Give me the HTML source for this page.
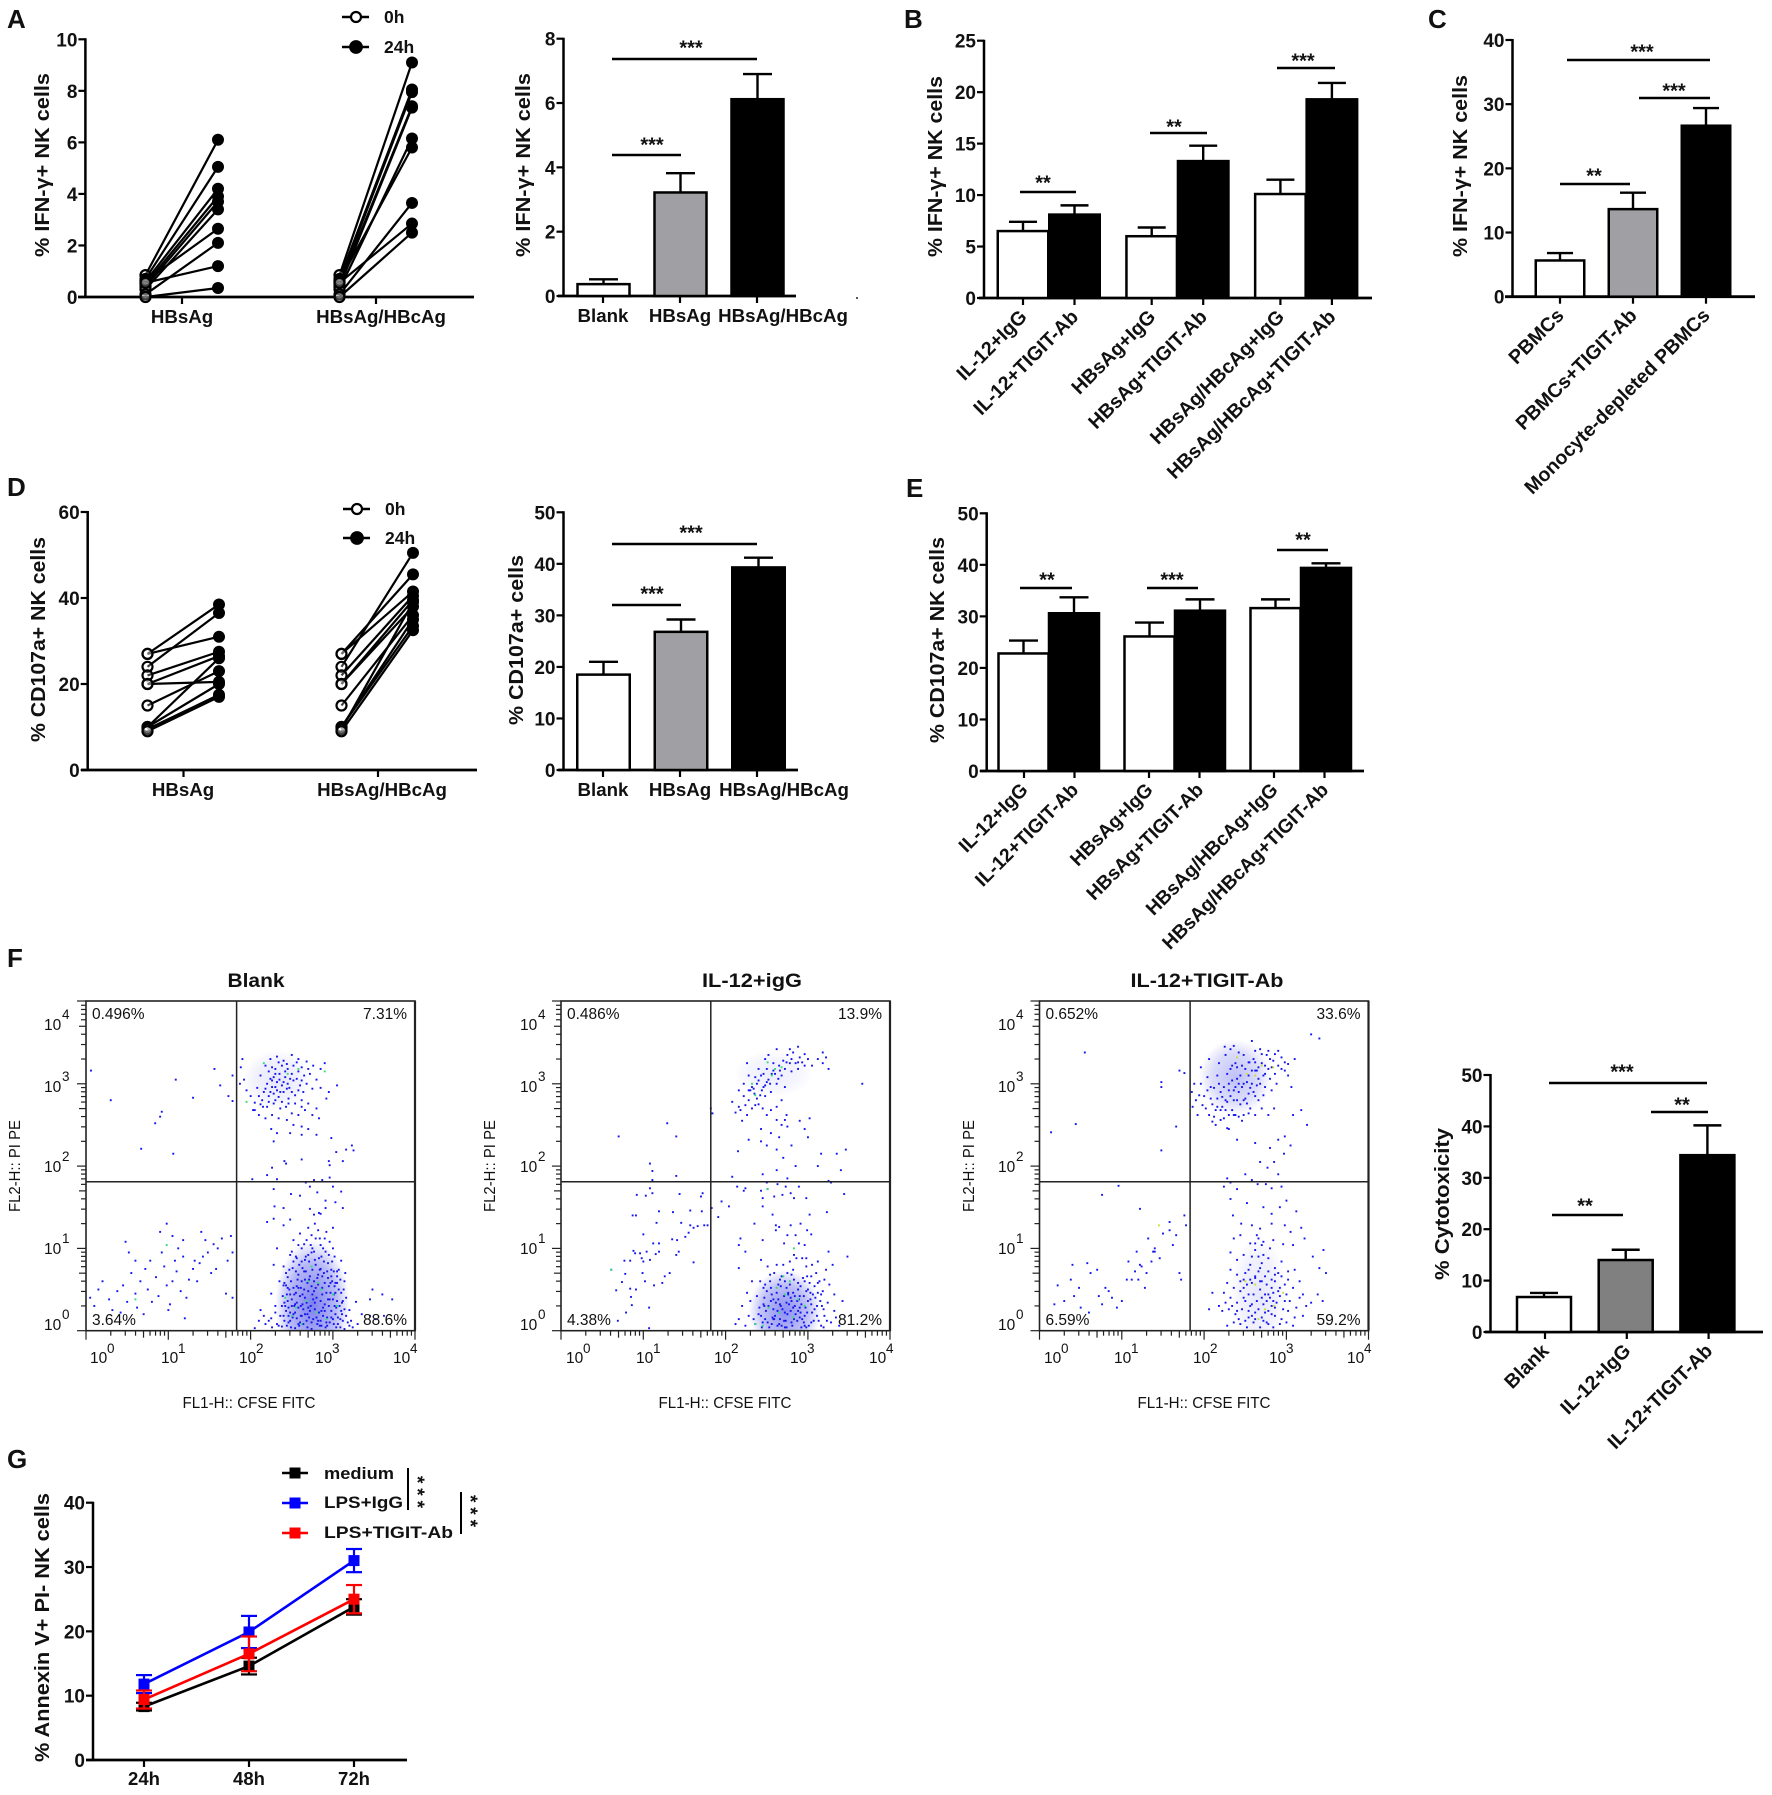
<!DOCTYPE html>
<html lang="en">
<head>
<meta charset="utf-8">
<title>NK cell function figure panels A-G</title>
<style>
html,body{margin:0;padding:0;background:#fff;}
svg{display:block;}
text{font-family:"Liberation Sans",Arial,sans-serif;fill:#111;}
</style>
</head>
<body>
<svg id="figure" xmlns="http://www.w3.org/2000/svg" width="1772" height="1795" viewBox="0 0 1772 1795">
  <defs>
    <radialGradient id="hazeGrad">
      <stop offset="0" stop-color="#0a10e0" stop-opacity="0.62"/>
      <stop offset="0.65" stop-color="#0a10e0" stop-opacity="0.34"/>
      <stop offset="1" stop-color="#0a10e0" stop-opacity="0"/>
    </radialGradient>
  </defs>
</svg>
<script>
/* ---------- Panel A data ---------- */
const aPairGroups=['HBsAg','HBsAg/HBcAg'];
const aPairTicks=[0,2,4,6,8,10];
const aPair0h=[0.85,0.7,0.6,0.5,0.4,0.3,0.62,0.1,0.55,0.0];
const aPair24hG1=[6.1,5.05,4.2,3.9,3.7,3.4,2.65,2.1,1.2,0.35];
const aPair24hG2=[9.1,8.05,7.95,7.4,7.35,6.15,5.8,3.65,2.85,2.5];
const aBarCats=['Blank','HBsAg','HBsAg/HBcAg'];
const aBarVals=[0.4,3.25,6.15];
const aBarErrs=[0.12,0.57,0.75];
const aBarTicks=[0,2,4,6,8];
/* ---------- Panel B data ---------- */
const bCats=['IL-12+IgG','IL-12+TIGIT-Ab','HBsAg+IgG','HBsAg+TIGIT-Ab','HBsAg/HBcAg+IgG','HBsAg/HBcAg+TIGIT-Ab'];
const bVals=[6.6,8.2,6.1,13.4,10.2,19.4];
const bErrs=[0.8,0.8,0.75,1.4,1.3,1.5];
const bTicks=[0,5,10,15,20,25];
/* ---------- Panel C data ---------- */
const cCats=['PBMCs','PBMCs+TIGIT-Ab','Monocyte-depleted PBMCs'];
const cVals=[5.8,13.8,26.8];
const cErrs=[1.0,2.4,2.6];
const cTicks=[0,10,20,30,40];
/* ---------- Panel D data ---------- */
const dPairGroups=['HBsAg','HBsAg/HBcAg'];
const dPairTicks=[0,20,40,60];
const dPair0h=[27,24,27,22,20,20,15,10,10,9.5,9];
const dPair24hG1=[38.5,36.5,31,27.5,26.5,20.5,23,26,20,17.5,17];
const dPair24hG2=[45.5,50.5,41.5,40.5,39.5,38,36,35,33.5,39,32.5];
const dBarCats=['Blank','HBsAg','HBsAg/HBcAg'];
const dBarVals=[18.7,27,39.5];
const dBarErrs=[2.3,2.2,1.7];
const dBarTicks=[0,10,20,30,40,50];
/* ---------- Panel E data ---------- */
const eCats=['IL-12+IgG','IL-12+TIGIT-Ab','HBsAg+IgG','HBsAg+TIGIT-Ab','HBsAg/HBcAg+IgG','HBsAg/HBcAg+TIGIT-Ab'];
const eVals=[23,30.8,26.3,31.3,31.8,39.6];
const eErrs=[2.3,2.9,2.5,2.0,1.5,0.7];
const eTicks=[0,10,20,30,40,50];
/* ---------- Panel F cytotoxicity data ---------- */
const fCats=['Blank','IL-12+IgG','IL-12+TIGIT-Ab'];
const fVals=[7,14.2,34.6];
const fErrs=[0.6,1.8,5.6];
const fTicks=[0,10,20,30,40,50];
/* ---------- Panel G data ---------- */
const gCats=['24h','48h','72h'];
const gTicks=[0,10,20,30,40];
const gMedium=[8.3,14.6,23.8];
const gMediumErr=[0.6,1.3,1.2];
const gIgG=[11.8,19.9,31];
const gIgGErr=[1.4,2.5,1.8];
const gTigit=[9.4,16.5,25];
const gTigitErr=[1.4,2.7,2.2];
/* ---------- Flow cytometry events: flat x,y pairs in log10 x 100 units ---------- */
const blankEvents=[6,316,30,280,109,305,130,283,156,318,163,298,178,310,173,285,178,279,92,266,90,260,84,252,67,221,106,215,
190,330,188,320,192,305,187,300,195,292,200,285,205,277,203,268,210,262,215,272,208,295,212,310,218,322,224,330,232,333,240,328,250,335,258,330,268,327,276,322,285,318,290,325,222,315,230,318,238,322,245,318,252,322,228,308,235,312,242,308,250,312,258,315,265,310,272,312,280,305,220,300,226,296,232,302,238,298,245,300,252,304,260,298,268,300,275,294,285,295,295,290,305,298,210,285,216,290,222,285,228,288,234,284,240,290,246,282,254,286,262,280,270,276,280,270,292,282,205,268,212,275,220,272,228,276,236,270,243,272,250,264,258,262,266,268,275,262,283,258,218,258,226,262,234,258,244,256,252,250,262,248,270,245,280,238,225,245,232,240,248,240,262,238,235,305,247,295,224,306,232,292,242,315,
226,320,234,326,244,324,256,326,262,320,270,318,226,304,230,312,240,302,248,306,256,306,262,304,218,294,224,290,230,296,236,290,244,294,250,290,258,292,264,290,214,280,222,278,230,280,238,278,246,276,254,276,262,272,
228,230,298,234,323,225,316,220,304,217,325,219,241,206,243,203,262,208,295,206,296,201,312,206,226,198,220,189,232,184,202,184,296,186,287,183,277,183,
5,40,10,30,15,50,20,60,28,38,32,25,38,48,42,22,45,55,50,35,55,70,60,45,62,28,66,60,70,20,72,75,75,50,78,85,80,35,85,65,88,42,92,95,95,78,98,55,100,25,102,32,105,60,108,85,110,72,112,100,115,48,118,90,120,15,122,40,125,62,130,75,135,60,138,82,142,90,148,95,152,70,158,75,160,100,165,112,172,85,176,115,178,95,132,85,145,110,140,120,170,45,178,40,155,105,90,120,98,130,105,115,118,110,60,85,52,95,48,108,
267,180,272,175,300,175,310,169,228,172,249,166,260,164,281,168,291,158,303,156,229,151,240,149,291,149,277,141,283,143,228,136,220,132,312,149,
205,3,212,25,218,8,225,45,230,30,235,60,225,15,228,80,232,100,240,78,243,55,248,92,252,110,256,88,260,118,265,105,270,125,274,95,278,130,284,112,288,100,292,120,296,108,300,125,302,90,305,72,310,85,314,60,316,40,320,25,322,12,328,35,335,20,345,38,348,50,352,14,362,18,360,44,372,38,345,18,330,8,240,128,248,135,272,148,285,142,
238,5,240,18,242,30,244,44,246,10,248,22,250,38,252,52,254,3,256,15,258,28,260,42,262,60,264,8,266,20,268,34,270,48,272,66,274,2,276,14,278,26,280,40,282,56,284,74,286,6,288,18,290,32,292,46,294,64,296,10,298,24,300,38,302,54,304,4,306,16,308,30,310,46,312,12,314,26,241,12,243,24,245,36,247,50,249,4,251,16,253,30,255,46,257,62,259,6,261,18,263,32,265,50,267,72,269,4,271,16,273,30,275,44,277,60,279,80,281,8,283,22,285,36,287,52,289,70,291,4,293,16,295,30,297,46,299,60,301,8,303,20,305,36,307,50,309,4,311,20,244,6,248,12,252,20,256,34,260,10,264,26,268,12,272,24,276,38,280,16,284,6,288,28,292,10,296,38,300,14,304,28,258,52,266,62,274,54,282,68,290,58,298,74,262,84,270,92,278,86,286,90,294,82,275,100,285,75,255,72,245,65,305,66,262,100,268,110,300,100,240,55,238,30,312,36,316,18,320,6,234,6,236,18,
232,8,230,22,226,4,222,12,216,18,210,12,314,2,318,10,324,4,
239,42,241,58,243,70,246,28,249,60,251,76,254,32,256,54,259,80,261,30,263,44,265,72,267,90,269,58,271,84,273,104,275,74,277,96,279,112,281,64,283,88,285,104,287,66,289,84,291,96,293,72,295,92,297,58,299,84,301,72,303,46,305,58,307,74,309,62,311,34,313,50,315,70,
246,18,250,30,254,22,258,8,262,18,266,40,270,28,274,10,278,34,282,12,286,24,290,24,294,38,298,16,302,30,306,8,310,24,247,74,255,90,263,76,271,62,279,52,287,44,295,54,303,58,241,34,245,52,253,44,261,52,269,20,277,48,285,12,293,6,301,44,309,14,
250,96,258,104,266,86,274,116,282,122,290,112,298,66,258,68,252,84,248,44];
const blankGreen=[216,325,245,312,258,318,290,315,195,278,60,38,98,104,242,40,250,18,262,8,270,60,280,22,286,50,292,14,300,44,305,30,274,78,282,58,268,36,255,28];
const blankCores=[[275,32,45,78,0.85],[232,305,42,36,0.16]];
const il12Events=[70,236,129,252,140,236,108,203,111,194,111,183,140,188,182,270,184,264,
208,278,212,265,216,272,220,255,222,285,226,262,228,280,232,270,230,292,235,288,238,300,240,275,243,310,246,296,248,285,250,318,252,305,255,290,258,325,260,312,262,300,265,322,268,310,270,328,272,318,275,335,278,325,280,315,282,338,285,325,288,318,290,332,293,326,296,336,300,330,305,322,312,330,318,325,322,332,325,318,245,270,250,262,255,268,262,272,268,280,274,262,240,318,236,308,228,310,222,300,226,325,216,292,318,338,288,345,278,342,262,342,252,335,248,330,366,300,232,296,238,282,244,292,250,302,256,312,264,306,272,296,224,274,218,268,
234,294,240,304,246,312,254,300,258,316,266,316,274,326,280,330,288,326,296,322,242,286,248,298,236,274,228,292,
243,245,250,225,243,230,255,240,262,220,268,250,272,256,262,256,280,225,270,210,262,195,275,185,245,190,250,180,243,170,285,200,290,255,296,245,300,235,302,258,312,200,316,215,325,182,328,180,346,220,335,215,340,195,275,248,265,235,228,232,208,187,215,218,
61,74,78,69,74,59,67,49,84,51,91,50,85,41,86,31,79,22,69,12,107,3,107,28,113,55,102,60,99,70,123,58,126,66,132,70,77,85,84,85,88,97,90,94,96,94,100,84,98,88,104,96,108,86,112,106,115,93,119,106,119,96,135,111,141,110,143,96,140,92,161,83,151,114,155,119,157,128,161,125,166,127,174,128,178,128,146,131,116,131,119,145,136,144,157,146,171,145,183,149,87,140,91,140,92,165,103,164,108,173,111,167,144,166,170,163,172,167,100,117,
214,175,224,173,222,170,251,172,263,178,273,175,289,175,245,161,259,163,269,165,279,167,283,161,298,161,344,166,245,151,323,144,302,141,195,157,204,151,191,138,257,141,235,130,261,128,265,126,279,128,291,130,261,122,299,122,304,117,218,112,216,104,245,110,224,96,275,116,285,116,271,106,289,106,296,104,216,76,325,96,348,90,
236,8,240,20,244,4,248,14,252,30,256,8,260,18,264,38,268,6,272,22,276,44,280,10,284,30,288,50,292,4,296,18,300,36,304,10,308,26,312,46,316,6,320,18,324,34,328,10,332,24,238,42,242,60,246,32,250,48,254,68,258,26,262,46,266,62,270,80,274,34,278,56,282,74,286,88,290,42,294,64,298,78,302,58,306,44,310,70,314,60,318,48,322,74,326,56,330,80,
245,10,249,24,253,4,257,16,261,34,265,8,269,26,273,12,277,32,281,6,285,20,289,38,293,14,297,28,301,6,305,22,309,40,313,12,317,30,241,28,247,40,255,52,263,24,271,42,279,24,287,12,295,42,303,46,311,30,319,4,267,54,275,70,283,62,291,54,299,66,259,70,251,78,243,86,283,92,293,88,305,80,272,4,280,36,288,24,296,6,304,32,258,38,266,14,274,52,282,46,290,28,298,48,
228,18,224,6,230,36,226,46,220,30,216,14,212,8,334,16,338,6,332,44,342,36,232,60,234,14,
243,18,247,30,251,10,255,36,259,14,263,6,267,30,271,12,275,20,279,40,283,14,287,36,291,22,295,10,299,22,303,38,307,12,311,18,315,36,319,26,323,12,
248,56,256,44,264,56,272,60,280,68,288,58,296,60,304,66,312,58,320,62,268,66,276,46,284,42,292,32,300,50,308,54,316,44,262,80,278,84,298,88,312,84,254,60,246,52,258,14,266,32,274,4,282,28,290,16,298,4];
const il12Green=[61,74,251,326,260,318,256,310,268,320,232,300,236,286,251,172,283,100,270,66,278,60,262,52,272,44,288,38,296,30,252,28,265,22,282,16,245,6,236,8];
const il12Cores=[[272,24,44,50,0.75],[258,312,48,28,0.12]];
const tigitEvents=[55,338,14,241,44,251,148,296,148,302,170,316,176,313,166,248,148,219,
188,300,185,290,190,280,186,272,192,262,196,320,200,285,202,270,206,330,208,296,210,275,212,260,214,250,216,310,218,325,220,290,222,272,224,258,226,335,228,312,230,300,232,285,234,268,236,346,238,325,240,306,242,290,244,275,246,255,248,335,250,318,252,302,254,288,256,270,258,352,260,330,262,316,264,298,266,280,268,342,270,325,272,310,274,296,276,335,278,318,280,306,282,292,284,328,286,312,288,300,290,340,294,318,298,326,302,310,306,296,310,330,225,345,234,322,242,338,248,300,255,326,262,340,268,300,274,322,280,330,212,295,220,268,228,278,236,292,244,310,252,276,260,290,216,282,224,296,232,318,240,280,248,262,256,295,264,316,272,286,196,300,204,308,238,262,246,296,254,310,262,285,270,270,278,262,266,320,258,316,232,342,240,320,
194,286,198,274,204,292,208,282,214,268,218,300,222,284,226,268,230,292,234,304,236,280,238,296,242,300,246,322,250,282,254,326,258,300,262,326,266,306,270,336,274,312,278,340,282,320,286,336,290,322,294,332,298,316,302,324,206,262,210,254,216,272,220,256,226,280,230,262,236,262,242,260,248,280,254,264,
330,360,340,355,228,246,262,262,285,270,308,262,318,268,325,250,
230,245,240,232,262,228,280,222,290,232,298,236,305,225,268,205,277,198,285,205,297,215,250,190,258,183,275,178,290,190,228,185,232,180,
18,32,30,36,42,42,50,28,60,22,22,55,40,80,38,62,48,52,62,70,58,82,70,74,72,42,76,32,80,52,84,48,88,40,94,28,100,36,106,62,108,84,112,62,116,72,120,62,124,78,128,52,130,70,138,96,132,112,136,84,140,100,146,88,150,118,158,122,158,132,162,104,166,116,170,70,172,62,176,140,122,148,96,176,76,165,178,128,140,96,118,96,122,80,
224,175,240,172,265,178,282,173,294,175,232,160,252,155,272,150,282,142,292,150,300,158,312,145,298,128,235,140,245,130,258,128,268,124,282,130,305,120,318,125,236,112,244,116,256,106,266,112,272,108,284,110,296,105,308,104,322,112,332,90,345,98,340,76,348,70,
232,95,240,86,248,92,256,80,262,98,270,82,278,88,286,76,294,84,302,72,232,74,240,68,248,62,254,74,262,66,270,60,278,72,286,60,294,66,302,62,310,74,228,58,236,52,244,48,252,56,260,44,268,50,276,56,284,46,292,52,300,44,308,52,316,40,224,46,232,40,240,34,248,40,256,30,264,36,272,32,280,40,288,34,296,26,304,36,312,28,320,44,222,24,230,26,238,20,246,26,254,16,262,22,270,16,278,24,286,18,294,14,302,24,310,16,236,10,244,8,252,4,260,10,268,4,276,10,284,4,292,8,300,10,308,6,250,36,258,58,266,72,274,44,282,30,290,70,298,56,258,90,268,76,282,62,234,30,242,14,228,6,316,60,324,30,330,34,338,44,226,34,344,36,
210,46,206,26,218,30,320,18,
254,44,258,32,262,14,266,26,270,40,274,22,278,8,282,20,286,28,290,48,262,64,266,90,270,104,274,66,278,44,282,52,286,68,258,18,250,12,254,24,
244,60,250,70,262,106,272,92,264,116,280,100,268,60,276,36,284,36,292,42,298,36,256,62,248,52,240,24,272,12];
const tigitGreen=[240,332,252,312,262,310,270,322,284,320,145,128,262,56,274,26,266,14,285,30,250,60,296,46];
const tigitCores=[[238,308,44,46,0.42],[266,45,34,70,0.16]];
/* ---------- Drawing helpers ---------- */
const svgNS='http://www.w3.org/2000/svg';
const root=document.getElementById('figure');
function add(parent,tag,attrs,name,content){
  const el=document.createElementNS(svgNS,tag);
  for(const k in attrs){el.setAttribute(k,attrs[k]);}
  
  
  if(content!==undefined){el.textContent=content;}
  parent.appendChild(el);
  return el;
}
function line(p,x1,y1,x2,y2,w,name,color){
  return add(p,'line',{x1:x1,y1:y1,x2:x2,y2:y2,stroke:color||'#000','stroke-width':w},name);
}
function panelLetter(ch,x,y){
  add(root,'text',{x:x,y:y,'font-size':26,'font-weight':'bold',fill:'#000'},'panel-letter-'+ch.toLowerCase(),ch);
}
function yTitle(p,text,x,y1,y2,size,weight,name){
  const yc=(y1+y2)/2;
  add(p,'text',{x:x,y:yc,'font-size':size,'font-weight':weight,'text-anchor':'middle',transform:'rotate(-90 '+x+' '+yc+')',textLength:y2-y1,lengthAdjust:'spacingAndGlyphs'},name,text);
}
function yAxis(p,left,top,bottom,xEnd,xStart,ticks,yMax,fontSize){
  const ys=v=>bottom-(v/yMax)*(bottom-top);
  line(p,left,top-1,left,bottom+1,2.5,'y-axis-line');
  line(p,xStart,bottom,xEnd,bottom,2.8,'x-axis-line');
  ticks.forEach(t=>{
    line(p,left-7,ys(t),left,ys(t),2.2,'y-tick');
    add(p,'text',{x:left-8,y:ys(t)+7,'font-size':fontSize||19,'font-weight':'bold','text-anchor':'end'},'y-tick-label',String(t));
  });
  return ys;
}
function sig(p,x1,x2,y,sx,sy,stars){
  line(p,x1,y,x2,y,2.4,'significance-line');
  add(p,'text',{x:sx,y:sy+11.5,'font-size':20,'font-weight':'bold','text-anchor':'middle',fill:'#223'},'significance-stars',stars);
}
function barChart(o){
  const g=add(root,'g',{},o.name);
  const ys=yAxis(g,o.left,o.top,o.bottom,o.xEnd,o.xStart,o.ticks,o.yMax);
  const xs=i=>o.paired?o.x0+Math.floor(i/2)*o.groupStep+(i%2)*o.innerStep:o.x0+i*o.step;
  o.cats.forEach((c,i)=>{
    const cx=xs(i), fill=o.fills[i];
    const top=ys(o.vals[i]);
    const w=o.barW;
    add(g,'rect',{x:cx-w/2,y:top+1,width:w,height:o.bottom-top-1,fill:fill,stroke:'#000','stroke-width':2.5},'bar-'+c.toLowerCase().replace(/[^a-z0-9]+/g,'-'));
    const et=ys(o.vals[i]+o.errs[i]);
    line(g,cx,top,cx,et,2.4,'error-bar-stem');
    line(g,cx-o.capW/2,et,cx+o.capW/2,et,2.4,'error-bar-cap');
    line(g,o.tickX(i),o.bottom,o.tickX(i),o.bottom+7,2.2,'x-tick');
    if(o.rotated){
      const ax=o.tickX(i)+5, ay=o.bottom+20;
      add(g,'text',{x:ax,y:ay,'font-size':o.labelSize||19.6,'font-weight':'bold','text-anchor':'end',transform:'rotate(-45 '+ax+' '+ay+')'},'x-tick-label',c);
    }else{
      add(g,'text',{x:o.labelX[i],y:o.bottom+26,'font-size':18.7,'font-weight':'bold','text-anchor':'middle'},'x-tick-label',c);
    }
  });
  yTitle(g,o.title,o.titleX,o.titleY1,o.titleY2,20,'bold','y-axis-title');
  o.sigs.forEach(s=>sig(g,s[0],s[1],s[2],s[3],s[4],s[5]));
}
function pairChart(o){
  const g=add(root,'g',{},o.name);
  const ys=yAxis(g,o.left,o.top,o.bottom,o.xEnd,o.xStart,o.ticks,o.yMax);
  const px=(grp,t)=>o.x0+grp*o.groupStep+t*o.timeStep;
  o.groups.forEach((name,gi)=>{
    const after=o.after[gi];
    after.forEach((v,i)=>{
      line(g,px(gi,0),ys(o.before[i]),px(gi,1),ys(v),2.2,'paired-line');
    });
    after.forEach(v=>{
      add(g,'circle',{cx:px(gi,1),cy:ys(v),r:6,fill:'#000'},'point-24h');
    });
    o.before.forEach(v=>{
      add(g,'circle',{cx:px(gi,0),cy:ys(v),r:5,fill:'#fff','fill-opacity':0.25,stroke:'#000','stroke-width':2.2},'point-0h');
    });
    line(g,o.tickX[gi],o.bottom,o.tickX[gi],o.bottom+7,2.2,'x-tick');
    add(g,'text',{x:o.labelX[gi],y:o.bottom+26,'font-size':18.7,'font-weight':'bold','text-anchor':'middle'},'x-tick-label',name);
  });
  yTitle(g,o.title,o.titleX,o.titleY1,o.titleY2,20,'bold','y-axis-title');
  const lg=add(g,'g',{},'legend');
  [[o.legY[0],'0h',false],[o.legY[1],'24h',true]].forEach(e=>{
    line(lg,o.legX,e[0],o.legX+27,e[0],2.4,'legend-line');
    add(lg,'circle',{cx:o.legX+14,cy:e[0],r:e[2]?5.8:5,fill:e[2]?'#000':'#fff',stroke:'#000','stroke-width':2.2},e[2]?'legend-marker-24h':'legend-marker-0h');
    add(lg,'text',{x:o.legX+42,y:e[0]+6,'font-size':17.5,'font-weight':'bold'},'legend-entry',e[1]);
  });
}
function powerLabel(p,x,y,exp,sx,sy){
  const t=add(p,'text',{x:x,y:y,'font-size':15.5,fill:'#222'},'axis-power-label','10');
  add(p,'text',{x:sx,y:sy,'font-size':13.5,fill:'#222'},'axis-power-exponent',String(exp));
  return t;
}
function flowPlot(o){
  const g=add(root,'g',{},o.name);
  const left=o.left, right=left+329, top=1001, bottom=1330.7, dec=82.3;
  const ex=v=>left+v/100*dec;
  const ey=v=>bottom-v/100*dec;
  const clipId=o.name+'-clip';
  const cp=add(g,'clipPath',{id:clipId},'plot-clip');
  add(cp,'rect',{x:left,y:top,width:329,height:bottom-top},'plot-clip-rect');
  o.cores.forEach(c=>{
    add(g,'ellipse',{cx:ex(c[0]),cy:ey(c[1]),rx:c[2]/100*dec,ry:c[3]/100*dec,fill:'url(#hazeGrad)',opacity:c[4],'clip-path':'url(#'+clipId+')'},'density-core');
  });
  for(let i=0;i<o.events.length;i+=2){
    add(g,'rect',{x:ex(o.events[i])-0.9,y:ey(o.events[i+1])-1,width:1.9,height:1.9,fill:'#1414f0'},'event-dot');
  }
  for(let i=0;i<o.green.length;i+=2){
    add(g,'rect',{x:ex(o.green[i])-0.9,y:ey(o.green[i+1])-1,width:1.9,height:1.9,fill:o.greenColor},'event-dot-dense');
  }
  add(g,'rect',{x:left,y:top,width:329,height:bottom-top,fill:'none',stroke:'#222','stroke-width':1.6},'plot-frame');
  line(g,right,top,right,bottom,2.2,'plot-frame-right','#222');
  line(g,ex(o.gateX),top,ex(o.gateX),bottom,1.5,'quadrant-vertical','#222');
  line(g,left,ey(o.gateY),right,ey(o.gateY),1.5,'quadrant-horizontal','#222');
  for(let d=0;d<4;d++){
    for(let m=1;m<10;m++){
      const v=(d+Math.log10(m))*100;
      const len=m===1?9:(m===5?7:5);
      line(g,ex(v),bottom,ex(v),bottom+len,1.2,m===1?'x-major-tick':'x-minor-tick','#222');
      line(g,left-len,ey(v),left,ey(v),1.2,m===1?'y-major-tick':'y-minor-tick','#222');
    }
  }
  line(g,right,bottom,right,bottom+9,1.2,'x-major-tick','#222');
  line(g,left-9,top,left,top,1.2,'y-major-tick','#222');
  [1330,1254,1172,1092,1030].forEach((b,i)=>powerLabel(g,o.yLabX,b,i,o.yLabX+18,b-11));
  o.xLabX.forEach((x,i)=>powerLabel(g,x,1363,i,x+17,1353));
  add(g,'text',{x:o.titleX,y:987,'font-size':19,'font-weight':'bold','text-anchor':'middle',textLength:o.titleLen,lengthAdjust:'spacingAndGlyphs'},'plot-title',o.title);
  add(g,'text',{x:o.xTitleX,y:1408,'font-size':15.5,'text-anchor':'middle',textLength:133,lengthAdjust:'spacingAndGlyphs',fill:'#222'},'x-axis-title','FL1-H:: CFSE FITC');
  yTitle(g,'FL2-H:: PI PE',o.yTitleX,1120,1212,15.5,'normal','y-axis-title');
  const ps={'font-size':15.5,fill:'#222'};
  add(g,'text',Object.assign({x:left+6,y:1019},ps),'quadrant-percent-ul',o.pct[0]);
  add(g,'text',Object.assign({x:right-8,y:1019,'text-anchor':'end'},ps),'quadrant-percent-ur',o.pct[1]);
  add(g,'text',Object.assign({x:left+6,y:1325},ps),'quadrant-percent-ll',o.pct[2]);
  add(g,'text',Object.assign({x:right-8,y:1325,'text-anchor':'end'},ps),'quadrant-percent-lr',o.pct[3]);
}
function lineChart(){
  const g=add(root,'g',{},'panel-g-annexin-lines');
  const bottom=1760, top=1502.7;
  const ys=yAxis(g,93,top,bottom,407,86,gTicks,40);
  const xs=i=>144+i*105;
  gCats.forEach((c,i)=>{
    line(g,xs(i),bottom,xs(i),bottom+7,2.2,'x-tick');
    add(g,'text',{x:xs(i),y:1785,'font-size':18.5,'font-weight':'bold','text-anchor':'middle'},'x-tick-label',c);
  });
  const series=[[gMedium,gMediumErr,'#000','medium'],[gIgG,gIgGErr,'#0000ff','lps-igg'],[gTigit,gTigitErr,'#ff0000','lps-tigit-ab']];
  series.forEach(s=>{
    const sg=add(g,'g',{},'series-'+s[3]);
    add(sg,'polyline',{points:s[0].map((v,i)=>xs(i)+','+ys(v)).join(' '),fill:'none',stroke:s[2],'stroke-width':2.6},'series-line');
    s[0].forEach((v,i)=>{
      line(sg,xs(i),ys(v-s[1][i]),xs(i),ys(v+s[1][i]),2.2,'error-bar-stem',s[2]);
      line(sg,xs(i)-8,ys(v+s[1][i]),xs(i)+8,ys(v+s[1][i]),2.2,'error-bar-cap',s[2]);
      line(sg,xs(i)-8,ys(v-s[1][i]),xs(i)+8,ys(v-s[1][i]),2.2,'error-bar-cap',s[2]);
      add(sg,'rect',{x:xs(i)-5.5,y:ys(v)-5.5,width:11,height:11,fill:s[2]},'series-marker');
    });
  });
  yTitle(g,'% Annexin V+ PI- NK cells',49,1493,1762,20,'bold','y-axis-title');
  const lg=add(g,'g',{},'legend');
  const legendRows=[[1473,1479,'#000','medium',70],[1503,1508,'#0000ff','LPS+IgG',79],[1533,1538,'#ff0000','LPS+TIGIT-Ab',129]];
  legendRows.forEach(r=>{
    line(lg,282,r[0],308,r[0],2.6,'legend-line',r[2]);
    add(lg,'rect',{x:289.5,y:r[0]-5.5,width:11,height:11,fill:r[2]},'legend-marker');
    add(lg,'text',{x:324,y:r[1],'font-size':17,'font-weight':'bold',textLength:r[4],lengthAdjust:'spacingAndGlyphs'},'legend-entry',r[3]);
  });
  line(g,408,1468,408,1510,2,'significance-bracket');
  line(g,461,1492,461,1534,2,'significance-bracket');
  add(g,'text',{x:411,y:1492,'font-size':19,'font-weight':'bold','text-anchor':'middle',textLength:32,transform:'rotate(90 411 1492)',fill:'#223'},'significance-stars','***');
  add(g,'text',{x:464,y:1511,'font-size':19,'font-weight':'bold','text-anchor':'middle',textLength:32,transform:'rotate(90 464 1511)',fill:'#223'},'significance-stars','***');
}
/* ---------- Build ---------- */
panelLetter('A',7,28);
panelLetter('B',904,28);
panelLetter('C',1428,28);
panelLetter('D',7,496);
panelLetter('E',906,497);
panelLetter('F',7,967);
panelLetter('G',7,1468);

pairChart({name:'panel-a-paired',left:85.4,top:39.3,bottom:297,xEnd:474,xStart:78,ticks:aPairTicks,yMax:10,groups:aPairGroups,
  before:aPair0h,after:[aPair24hG1,aPair24hG2],x0:145.5,groupStep:194,timeStep:72.5,tickX:[182,376],labelX:[182,381],
  title:'% IFN-γ+ NK cells',titleX:49,titleY1:73,titleY2:257,legX:342,legY:[17,47]});
barChart({name:'panel-a-bars',left:563.5,top:38.7,bottom:296,xEnd:796,xStart:558,ticks:aBarTicks,yMax:8,cats:aBarCats,vals:aBarVals,errs:aBarErrs,
  fills:['#fff','#a0a0a4','#000'],x0:603.5,step:77,barW:52,capW:29,tickX:i=>603+i*77,labelX:[603,680,783],
  title:'% IFN-γ+ NK cells',titleX:530,titleY1:73,titleY2:257,
  sigs:[[612,757,59,691,43,'***'],[612,681,155,652,140,'***']]});
add(root,'circle',{cx:857,cy:298,r:1,fill:'#222'},'stray-mark');
barChart({name:'panel-b-bars',left:984,top:40.7,bottom:298,xEnd:1372,xStart:979,ticks:bTicks,yMax:25,cats:bCats,vals:bVals,errs:bErrs,paired:true,
  fills:['#fff','#000','#fff','#000','#fff','#000'],x0:1023,groupStep:128.7,innerStep:51.5,barW:50.5,capW:28,tickX:i=>1023+Math.floor(i/2)*128.7+(i%2)*51.5,rotated:true,
  title:'% IFN-γ+ NK cells',titleX:942,titleY1:76,titleY2:257,
  sigs:[[1020,1076,192,1043,178,'**'],[1150,1207,133,1174,122,'**'],[1277,1335,68,1303,56,'***']]});
barChart({name:'panel-c-bars',left:1512.5,top:40,bottom:296.7,xEnd:1755,xStart:1505,ticks:cTicks,yMax:40,cats:cCats,vals:cVals,errs:cErrs,
  fills:['#fff','#a0a0a4','#000'],x0:1560,step:73,barW:48.5,capW:26,tickX:i=>1560+i*73,rotated:true,
  title:'% IFN-γ+ NK cells',titleX:1467,titleY1:75,titleY2:257,
  sigs:[[1567,1710,60,1642,47,'***'],[1639,1710,98,1674,86,'***'],[1560,1630,184,1594,171,'**']]});
pairChart({name:'panel-d-paired',left:87.7,top:512,bottom:770,xEnd:477,xStart:81,ticks:dPairTicks,yMax:60,groups:dPairGroups,
  before:dPair0h,after:[dPair24hG1,dPair24hG2],x0:147.5,groupStep:194,timeStep:71.5,tickX:[183.5,378],labelX:[183,382],
  title:'% CD107a+ NK cells',titleX:45,titleY1:537,titleY2:742,legX:343,legY:[509,538]});
barChart({name:'panel-d-bars',left:563.5,top:512.3,bottom:770,xEnd:798,xStart:558,ticks:dBarTicks,yMax:50,cats:dBarCats,vals:dBarVals,errs:dBarErrs,
  fills:['#fff','#a0a0a4','#000'],x0:603.5,step:77.5,barW:52.5,capW:29,tickX:i=>603+i*77,labelX:[603,680,784],
  title:'% CD107a+ cells',titleX:523,titleY1:555,titleY2:725,
  sigs:[[612,757,544,691,528,'***'],[612,681,605,652,589,'***']]});
barChart({name:'panel-e-bars',left:986.7,top:513.3,bottom:771,xEnd:1364,xStart:980,ticks:eTicks,yMax:50,cats:eCats,vals:eVals,errs:eErrs,paired:true,
  fills:['#fff','#000','#fff','#000','#fff','#000'],x0:1023.5,groupStep:126,innerStep:50.5,barW:50,capW:29,tickX:i=>1024+Math.floor(i/2)*125+(i%2)*50.5,rotated:true,labelSize:19.3,
  title:'% CD107a+ NK cells',titleX:944,titleY1:537,titleY2:743,
  sigs:[[1020,1072,588,1047,575,'**'],[1147,1198,588,1172,575,'***'],[1277,1328,550,1303,535,'**']]});
flowPlot({name:'panel-f-flow-blank',left:86,title:'Blank',titleX:256,titleLen:57,xTitleX:249,yTitleX:20,yLabX:44,xLabX:[90,161,239,315,393],
  events:blankEvents,green:blankGreen,greenColor:'#30e070',cores:blankCores,gateX:183,gateY:181,pct:['0.496%','7.31%','3.64%','88.6%']});
flowPlot({name:'panel-f-flow-il12-igg',left:561,title:'IL-12+igG',titleX:752,titleLen:100,xTitleX:725,yTitleX:495,yLabX:520,xLabX:[566,636,714,790,869],
  events:il12Events,green:il12Green,greenColor:'#30e070',cores:il12Cores,gateX:182,gateY:181,pct:['0.486%','13.9%','4.38%','81.2%']});
flowPlot({name:'panel-f-flow-il12-tigit',left:1039.5,title:'IL-12+TIGIT-Ab',titleX:1207,titleLen:153,xTitleX:1204,yTitleX:974,yLabX:998,xLabX:[1044,1114,1193,1269,1347],
  events:tigitEvents,green:tigitGreen,greenColor:'#c8e030',cores:tigitCores,gateX:183,gateY:181,pct:['0.652%','33.6%','6.59%','59.2%']});
barChart({name:'panel-f-cytotoxicity-bars',left:1490.5,top:1075,bottom:1332,xEnd:1763,xStart:1485,ticks:fTicks,yMax:50,cats:fCats,vals:fVals,errs:fErrs,
  fills:['#fff','#808080','#000'],x0:1544,step:81.7,barW:54,capW:28,tickX:i=>1545+i*81.8,rotated:true,
  title:'% Cytotoxicity',titleX:1449,titleY1:1128,titleY2:1280,
  sigs:[[1549,1707,1083,1622,1067,'***'],[1651,1708,1112,1682,1100,'**'],[1552,1623,1215,1585,1201,'**']]});
lineChart();
</script>
</body>
</html>
